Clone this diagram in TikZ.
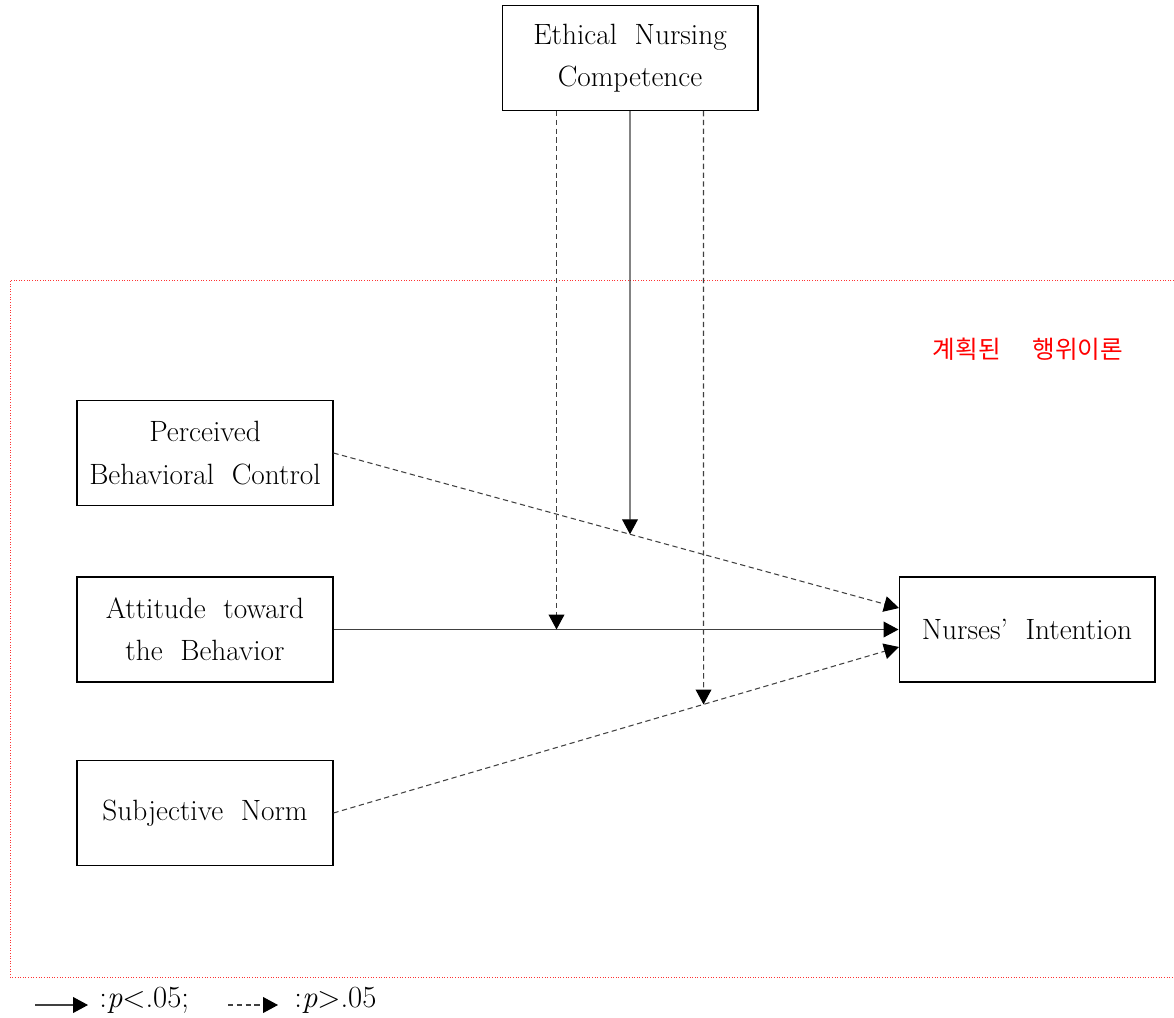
\documentclass[tikz,border=0pt]{standalone}
\usepackage{fontspec}
\usepackage{xcolor}
\usetikzlibrary{positioning,arrows.meta}
\newfontfamily\kofont{Noto Sans CJK KR}
\newcommand\boxfont{\fontsize{16.7}{24}\selectfont\spaceskip=0.6em\relax}

\begin{document}
\begin{tikzpicture}[x=0.02cm,y=-0.02cm,
    box/.style={draw,line width=0.6pt,minimum width=5.12cm,minimum height=2.1cm,
      inner sep=0pt,align=center,font=\boxfont},
    sig/.style={draw=black!75,line width=0.6pt,
      -{Triangle[length=8.5pt,width=9pt,color=black]}},
    nsig/.style={sig,dash pattern=on 3pt off 2pt},
    legend/.style={anchor=west,inner sep=0pt,font=\fontsize{17.5}{19}\selectfont}]
      \useasboundingbox (0,0) rectangle (1174,1018);
      \draw[red!80,densely dotted,line width=0.5pt] (1174,280) -- (10,280) -- (10,977) -- (1174,977);
      \node[text=red,font=\kofont\fontsize{14}{16}\selectfont] (tpb) at (1028,349) {계획된\hspace{1.3em}행위이론};

      \node[box] (enc) at (630,58) {Ethical Nursing\\Competence};
      \node[box] (pbc) at (205,453) {Perceived\\Behavioral Control};
      \node[box] (atb) at (205,629.5) {Attitude toward\\the Behavior};
      \node[box] (sn) at (205,813) {Subjective Norm};
      \node[box] (ni) at (1027,629.5) {Nurses’ Intention};

      \coordinate (ni1) at (899,608);
      \coordinate (ni2) at (899,647);
      \draw[nsig] (pbc.east) -- (ni1);
      \draw[sig] (atb.east) -- (ni.west);
      \draw[nsig] (sn.east) -- (ni2);

      \coordinate (e1) at ([xshift=-1.47cm]enc.south);
      \coordinate (e3) at ([xshift=1.47cm]enc.south);
      \coordinate (e3t) at ([xshift=1.47cm]enc.north);
      \draw[nsig] (e1) -- (e1 |- atb.east);
      \draw[sig] (enc.south) -- (intersection of enc.south--enc.north and pbc.east--ni1);
      \draw[nsig] (e3) -- (intersection of e3--e3t and sn.east--ni2);

      \coordinate (l1) at (35,1005);
      \coordinate (l2) at (88,1005);
      \coordinate (l3) at (228,1005);
      \coordinate (l4) at (278,1005);
      \draw[sig] (l1) -- (l2);
      \node[legend] (lsig) at (99,1000) {{:}\textit{p}$<$.05;};
      \draw[nsig] (l3) -- (l4);
      \node[legend] (lnsig) at (294,1000) {{:}\textit{p}$>$.05};
    \end{tikzpicture}
\end{document}
